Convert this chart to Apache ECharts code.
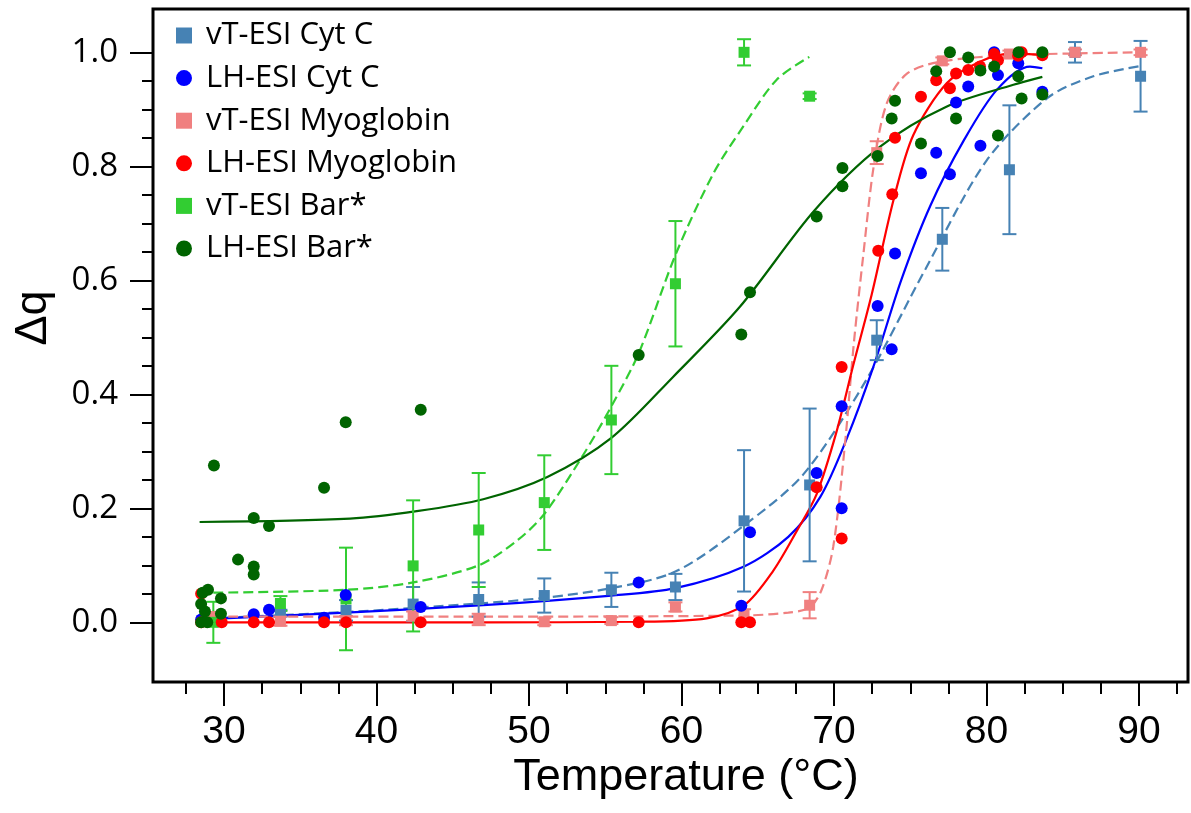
<!DOCTYPE html>
<html><head><meta charset="utf-8">
<script src="https://cdn.jsdelivr.net/npm/echarts@6/dist/echarts.min.js"></script>
<style>html,body{margin:0;padding:0;background:#fff}#c{width:1191px;height:813px}</style>
</head><body><div id="c"></div>
<script>
// ---- Data ----
const xTickLabels = [30, 40, 50, 60, 70, 80, 90];
const xMinorTicks = [27.5, 32.5, 35, 37.5, 42.5, 45, 47.5, 52.5, 55, 57.5, 62.5, 65, 67.5, 72.5, 75, 77.5, 82.5, 85, 87.5, 92.5];
const yTickLabels = [0, 0.2, 0.4, 0.6, 0.8, 1.0];
const yMinorTicks = [0.05, 0.1, 0.15, 0.25, 0.3, 0.35, 0.45, 0.5, 0.55, 0.65, 0.7, 0.75, 0.85, 0.9, 0.95];

// vT-ESI temperatures (shared)
const vtTemps = [29.3, 33.7, 38.0, 42.4, 46.7, 51.0, 55.4, 59.6, 64.1, 68.4, 72.8, 77.1, 81.5, 85.8, 90.1];
const vtCytC = [0.007, 0.016, 0.021, 0.032, 0.040, 0.047, 0.057, 0.062, 0.178, 0.241, 0.495, 0.672, 0.794, 1.0, 0.958];
const vtCytCErr = [0.006, 0.006, 0.018, 0.03, 0.03, 0.03, 0.03, 0.023, 0.124, 0.134, 0.035, 0.055, 0.113, 0.018, 0.062];
const vtMyo = [0.01, 0.002, 0.003, 0.011, 0.005, 0.001, 0.003, 0.027, 0.013, 0.03, 0.824, 0.985, 0.997, 1.0, 1.0];
const vtMyoErr = [0.008, 0.008, 0.008, 0.008, 0.01, 0.006, 0.006, 0.008, 0.01, 0.023, 0.02, 0.006, 0.006, 0.005, 0.005];
const vtBarTemps = [29.3, 33.7, 38.0, 42.4, 46.7, 51.0, 55.4, 59.6, 64.1, 68.4];
const vtBar = [0.0, 0.033, 0.041, 0.099, 0.162, 0.21, 0.355, 0.594, 1.0, 0.923];
const vtBarErr = [0.036, 0.013, 0.09, 0.115, 0.10, 0.083, 0.095, 0.11, 0.023, 0.005];

// LH-ESI points [temperature, Δq]
const lhCytC = [[28.5,0.005],[31.95,0.014],[32.95,0.022],[36.56,0.008],[37.98,0.048],[42.9,0.027],[57.19,0.070],[63.92,0.029],[64.49,0.158],[68.86,0.262],[70.5,0.379],[70.5,0.200],[72.86,0.555],[73.78,0.479],[74.0,0.647],[75.7,0.788],[76.7,0.824],[77.6,0.786],[78.0,0.912],[78.8,0.940],[79.6,0.836],[80.5,1.0],[80.75,0.960],[82.08,0.981],[83.66,0.931]];
const lhMyo = [[28.5,0.05],[28.5,0.0],[29.85,0.0],[31.95,0.0],[32.95,0.0],[36.56,0.0],[38.0,0.0],[42.9,0.0],[57.19,0.0],[63.92,0.0],[64.49,0.0],[68.86,0.237],[70.5,0.448],[70.5,0.147],[72.9,0.652],[73.82,0.751],[74.0,0.850],[75.7,0.922],[76.7,0.951],[77.6,0.937],[78.0,0.963],[78.8,0.969],[79.57,0.975],[80.5,0.997],[80.75,0.986],[82.07,0.994],[82.3,1.0],[83.66,0.995]];
const lhBar = [[28.5,0.0],[28.9,0.0],[28.5,0.032],[28.75,0.019],[28.6,0.052],[28.95,0.057],[29.34,0.275],[29.8,0.042],[29.8,0.015],[30.92,0.110],[31.95,0.183],[31.95,0.098],[31.95,0.084],[32.95,0.169],[36.56,0.236],[37.98,0.351],[42.9,0.373],[57.19,0.469],[63.92,0.505],[64.49,0.579],[68.86,0.712],[70.55,0.765],[70.55,0.797],[72.86,0.818],[73.78,0.884],[74.0,0.915],[75.7,0.840],[76.7,0.967],[77.6,1.0],[78.0,0.884],[78.8,0.991],[79.6,0.968],[80.5,0.975],[80.75,0.854],[82.08,0.958],[82.1,1.0],[82.3,0.919],[83.66,1.0],[83.66,0.926]];

// Fit curves
const fitVtCytC = [[29.0,0.007],[38,0.018],[46.7,0.033],[51,0.043],[55.4,0.06],[59.6,0.089],[64.1,0.17],[68,0.26],[72,0.42],[76,0.62],[80,0.81],[84,0.92],[87,0.958],[90.1,0.976]];
const fitLhCytC = [[28.5,0.005],[38,0.017],[47,0.03],[55.4,0.047],[59.6,0.06],[64.1,0.098],[67,0.15],[69.1,0.22],[70.8,0.32],[72.6,0.45],[74.4,0.6],[76.3,0.73],[78.5,0.845],[80.7,0.935],[82.85,0.975],[83.66,0.972]];
const fitVtMyo = [[29.3,0.01],[46.7,0.01],[64.1,0.012],[67,0.017],[68.4,0.026],[69.2,0.058],[69.95,0.133],[70.7,0.308],[71.3,0.49],[71.9,0.64],[72.6,0.8],[73.45,0.91],[74.8,0.963],[77.06,0.984],[81.7,0.995],[90.13,1.0]];
const fitLhMyo = [[28.5,0.0],[47,0.0],[57.19,0.001],[61.65,0.007],[64.1,0.03],[66,0.09],[67.55,0.16],[68.86,0.225],[70.17,0.335],[71.25,0.45],[72.47,0.575],[73.9,0.741],[75.2,0.855],[77.4,0.946],[79.6,0.984],[81.76,0.998],[83.66,0.995]];
const fitVtBar = [[29.3,0.052],[38,0.057],[42.4,0.07],[46.7,0.1],[49.2,0.143],[51,0.19],[53.56,0.294],[55.38,0.378],[57.19,0.472],[59.64,0.647],[62.1,0.788],[64.05,0.87],[66.24,0.952],[68.38,0.992]];
const fitLhBar = [[28.4,0.176],[38.26,0.182],[42.64,0.195],[47,0.216],[51.2,0.255],[55.38,0.323],[59.46,0.431],[63.84,0.554],[68.7,0.722],[73,0.834],[77.4,0.905],[81.76,0.943],[83.66,0.957]];

const names = ['vT-ESI Cyt C','LH-ESI Cyt C','vT-ESI Myoglobin','LH-ESI Myoglobin','vT-ESI Bar*','LH-ESI Bar*'];
const colors = ['#4682B4','#0000FF','#F08080','#FF0000','#32CD32','#006400'];

// ---- Build option ----
const zip = (xs, ys) => xs.map((x, i) => [x, ys[i]]);
const errData = (xs, ys, es) => xs.map((x, i) => [x, ys[i] - es[i], ys[i] + es[i]]);

function errSeries(data, color) {
  return {
    type: 'custom', name: 'err' + color, xAxisIndex: 0, yAxisIndex: 0, silent: true,
    renderItem: function (params, api) {
      const x = api.value(0), lo = api.value(1), hi = api.value(2);
      const p1 = api.coord([x, hi]), p2 = api.coord([x, lo]);
      const hw = 7;
      const st = { stroke: color, lineWidth: 2 };
      return { type: 'group', children: [
        { type: 'line', shape: { x1: p1[0], y1: p1[1], x2: p2[0], y2: p2[1] }, style: st },
        { type: 'line', shape: { x1: p1[0]-hw, y1: p1[1], x2: p1[0]+hw, y2: p1[1] }, style: st },
        { type: 'line', shape: { x1: p2[0]-hw, y1: p2[1], x2: p2[0]+hw, y2: p2[1] }, style: st }
      ]};
    },
    encode: { x: 0, y: [1, 2] },
    data: data, z: 3
  };
}
function fitSeries(data, color, dashed) {
  return { type: 'line', name: 'fit' + color, data: data, showSymbol: false, symbol: 'none',
    smooth: 0.3, silent: true, z: 2,
    lineStyle: { color: color, width: 2.2, type: dashed ? [10, 5] : 'solid' } };
}
function scatterSeries(name, data, color, square) {
  return { type: 'scatter', name: name, data: data, symbol: square ? 'rect' : 'circle',
    symbolSize: square ? 11 : 12, itemStyle: { color: color, opacity: 1 }, z: square ? 4 : 5 };
}

const series = [
  fitSeries(fitVtCytC, colors[0], true),
  fitSeries(fitLhCytC, colors[1], false),
  fitSeries(fitVtMyo, colors[2], true),
  fitSeries(fitLhMyo, colors[3], false),
  fitSeries(fitVtBar, colors[4], true),
  fitSeries(fitLhBar, colors[5], false),
  errSeries(errData(vtTemps, vtCytC, vtCytCErr), colors[0]),
  scatterSeries(names[0], zip(vtTemps, vtCytC), colors[0], true),
  scatterSeries(names[1], lhCytC, colors[1], false),
  errSeries(errData(vtTemps, vtMyo, vtMyoErr), colors[2]),
  scatterSeries(names[2], zip(vtTemps, vtMyo), colors[2], true),
  scatterSeries(names[3], lhMyo, colors[3], false),
  errSeries(errData(vtBarTemps, vtBar, vtBarErr), colors[4]),
  scatterSeries(names[4], zip(vtBarTemps, vtBar), colors[4], true),
  scatterSeries(names[5], lhBar, colors[5], false)
];

const X_MIN = 25.344, X_MAX = 93.21, Y_MIN = -0.1047, Y_MAX = 1.076;
const tickStyle = { color: '#000', width: 2 };

const option = {
  animation: false,
  backgroundColor: '#fff',
  grid: { left: 153, top: 9, width: 1035, height: 673, show: true, borderColor: '#000', borderWidth: 3, backgroundColor: 'transparent' },
  xAxis: [
    { type: 'value', min: X_MIN, max: X_MAX, position: 'bottom',
      axisLine: { show: false, onZero: false }, splitLine: { show: false },
      axisTick: { show: true, length: 24, lineStyle: tickStyle, customValues: xTickLabels },
      axisLabel: { show: true, customValues: xTickLabels, margin: 31, color: '#000',
        fontFamily: 'Liberation Sans', fontSize: 39, formatter: v => String(v) } },
    { type: 'value', min: X_MIN, max: X_MAX, position: 'bottom',
      axisLine: { show: false, onZero: false }, splitLine: { show: false },
      axisTick: { show: true, length: 12, lineStyle: tickStyle, customValues: xMinorTicks },
      axisLabel: { show: false } }
  ],
  yAxis: [
    { type: 'value', min: Y_MIN, max: Y_MAX, position: 'left',
      axisLine: { show: false, onZero: false }, splitLine: { show: false },
      axisTick: { show: true, length: 23, lineStyle: tickStyle, customValues: yTickLabels },
      axisLabel: { show: true, customValues: yTickLabels, margin: 35, color: '#000',
        fontFamily: 'Open Sans', fontSize: 33, formatter: v => v.toFixed(1) } },
    { type: 'value', min: Y_MIN, max: Y_MAX, position: 'left',
      axisLine: { show: false, onZero: false }, splitLine: { show: false },
      axisTick: { show: true, length: 11, lineStyle: tickStyle, customValues: yMinorTicks },
      axisLabel: { show: false } }
  ],
  legend: {
    orient: 'vertical', left: 171, top: 15, itemWidth: 16, itemHeight: 16, itemGap: 11.6,
    textStyle: { color: '#000', fontFamily: 'Open Sans', fontSize: 31, lineHeight: 31, padding: [0, 0, 0, 9] },
    selectedMode: false,
    data: names.map((n, i) => ({ name: n, icon: (i % 2 === 0) ? 'rect' : 'circle' }))
  },
  graphic: [
    { type: 'text', x: 686, y: 778, style: { text: 'Temperature (°C)', font: '45px "Liberation Sans"', fill: '#000', textAlign: 'center', textVerticalAlign: 'middle' } },
    { type: 'text', x: 34, y: 318, rotation: Math.PI / 2, style: { text: 'Δq', font: '45px "Liberation Sans"', fill: '#000', textAlign: 'center', textVerticalAlign: 'middle' } }
  ],
  series: series
};

const chart = echarts.init(document.getElementById('c'), null, { renderer: 'canvas' });
chart.setOption(option);
</script>
</body></html>
